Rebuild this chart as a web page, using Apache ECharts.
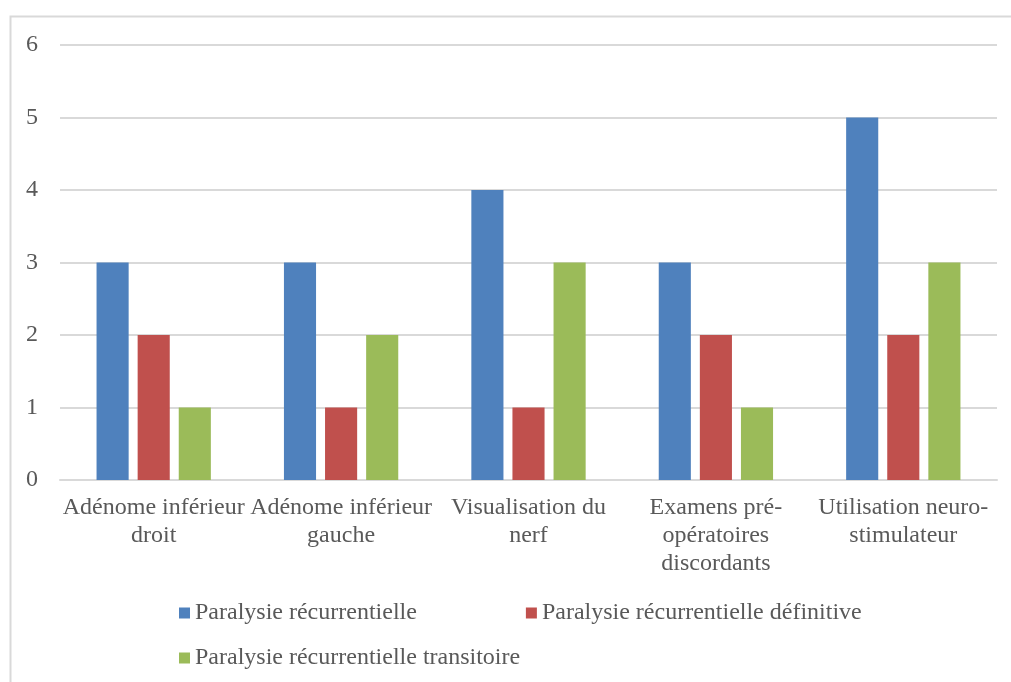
<!DOCTYPE html>
<html>
<head>
<meta charset="utf-8">
<script src="https://cdn.jsdelivr.net/npm/echarts@6/dist/echarts.min.js"></script>
<style>
  html, body { margin: 0; padding: 0; background: #fff; }
  #chart { width: 1011px; height: 682px; }
</style>
</head>
<body>
<div id="chart"></div>
<script>
var categories = [
  "Adénome inférieur\ndroit",
  "Adénome inférieur\ngauche",
  "Visualisation du\nnerf",
  "Examens pré-\nopératoires\ndiscordants",
  "Utilisation neuro-\nstimulateur"
];
var seriesNames = [
  "Paralysie récurrentielle",
  "Paralysie récurrentielle définitive",
  "Paralysie récurrentielle transitoire"
];
var recurrentielle = [3, 3, 4, 3, 5];
var definitive = [2, 1, 1, 2, 2];
var transitoire = [1, 2, 3, 1, 3];

var font = "Liberation Serif";
var textColor = "#595959";

var chart = echarts.init(document.getElementById("chart"));

function bar(name, data, color) {
  return {
    name: name,
    type: "bar",
    data: data,
    barGap: "28%",
    barCategoryGap: "39%",
    itemStyle: { color: color },
    emphasis: { disabled: true }
  };
}

var legendText = { fontFamily: font, fontSize: 24, color: textColor };

var option = {
  animation: false,
  textStyle: { fontFamily: font },
  graphic: [{
    type: "rect",
    shape: { x: 10.5, y: 16.5, width: 1010, height: 680 },
    style: { fill: "none", stroke: "#d9d9d9", lineWidth: 2 },
    silent: true
  }],
  grid: { left: 60, right: 14, top: 45, bottom: 202 },
  legend: [
    {
      data: [seriesNames[0], seriesNames[1]],
      left: 174, top: 596,
      itemWidth: 11, itemHeight: 11, itemGap: 109,
      icon: "rect",
      textStyle: legendText,
      selectedMode: false
    },
    {
      data: [seriesNames[2]],
      left: 174, top: 641,
      itemWidth: 11, itemHeight: 11,
      icon: "rect",
      textStyle: legendText,
      selectedMode: false
    }
  ],
  xAxis: {
    type: "category",
    data: categories,
    axisLine: { lineStyle: { color: "#d9d9d9", width: 2 } },
    axisTick: { show: false },
    axisLabel: {
      interval: 0,
      fontFamily: font, fontSize: 24, color: textColor,
      lineHeight: 28, margin: 14
    }
  },
  yAxis: {
    type: "value",
    min: 0, max: 6, interval: 1,
    axisLine: { show: false },
    axisTick: { show: false },
    splitLine: { lineStyle: { color: "#d9d9d9", width: 2 } },
    axisLabel: { fontFamily: font, fontSize: 24, color: textColor, margin: 22 }
  },
  series: [
    bar(seriesNames[0], recurrentielle, "#4f81bd"),
    bar(seriesNames[1], definitive, "#c0504d"),
    bar(seriesNames[2], transitoire, "#9bbb59")
  ]
};

chart.setOption(option);
</script>
</body>
</html>
